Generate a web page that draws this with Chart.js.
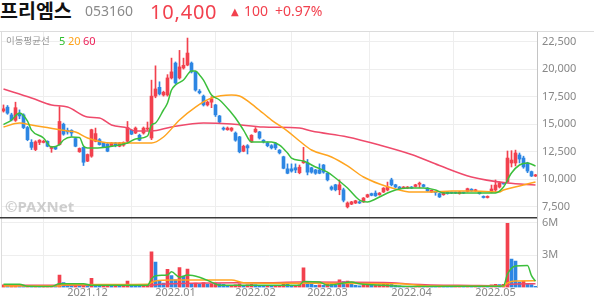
<!DOCTYPE html>
<html lang="ko">
<head>
<meta charset="utf-8">
<title>프리엠스 053160</title>
<script src="https://cdn.jsdelivr.net/npm/chart.js@4.4.1/dist/chart.umd.min.js"></script>
<style>
  html, body { margin: 0; padding: 0; background: #fff; }
  body { position: relative; width: 594px; height: 304px; overflow: hidden; font-family: 'Noto Sans', 'Noto Sans CJK KR', sans-serif; }
  .txt { position: absolute; white-space: nowrap; line-height: 1; }
  .pane { position: absolute; left: 0; width: 594px; }
  #pricePane { top: 31px; height: 186px; }
  #volPane { top: 217px; height: 87px; }
  .red { color: #f2414e; }
</style>
</head>
<body>
<div class="pane" id="pricePane"><canvas id="priceChart"></canvas></div>
<div class="pane" id="volPane"><canvas id="volChart"></canvas></div>

<!-- header -->
<div class="txt" style="left:0;top:0;font-family:'Noto Sans CJK KR';font-weight:700;font-size:19.5px;color:#111">프리엠스</div>
<div class="txt" style="left:85px;top:4px;font-size:14px;color:#8a8a8a">053160</div>
<div class="txt red" style="left:150px;top:2px;font-size:20px;letter-spacing:0.8px">10,400</div>
<div class="txt red" style="left:231px;top:7px;font-family:'DejaVu Sans';font-size:10px">▲</div>
<div class="txt red" style="left:244px;top:4px;font-size:14px">100</div>
<div class="txt red" style="left:275px;top:4px;font-size:14px">+0.97%</div>

<!-- moving average legend -->
<div class="txt" style="left:6px;top:36px;font-family:'Noto Sans CJK KR';font-size:9.5px;color:#999">이동평균선</div>
<div class="txt" style="left:59px;top:35px;font-size:11px;color:#2fbf2f">5</div>
<div class="txt" style="left:68px;top:35px;font-size:11px;color:#ffa31a">20</div>
<div class="txt" style="left:83px;top:35px;font-size:11px;color:#ec1f57">60</div>

<!-- watermark -->
<div class="txt" style="left:5px;top:199px;font-size:15px;font-weight:700;color:rgba(160,160,160,0.5)">©PAXNet</div>

<script>
// ---- ticks / categories ----
const monthIdx = [21, 43, 63, 81, 102, 123];
const monthLabels = ['2021.12', '2022.01', '2022.02', '2022.03', '2022.04', '2022.05'];
const priceTicks = [7500, 10000, 12500, 15000, 17500, 20000, 22500];
const volTicks = [3, 6];

// ---- daily candles (one value per trading day) ----
const openP = [
  16200,16550,15850,15350,15950,15850,14700,13350,12700,13350,
  13350,13450,12800,12950,13150,15000,14450,14450,13700,12500,
  12900,11650,12100,13450,13600,13300,13200,13050,13300,13000,
  13100,13450,14450,14200,14000,14200,14550,13750,17550,18350,
  17650,17650,19200,20550,19200,20100,20370,20550,19750,18000,
  17550,16750,17000,16750,15750,14650,14500,14450,14200,13850,
  12550,13050,13400,14300,14300,13550,13300,13050,13250,12650,
  12050,10950,10950,11050,10600,11500,11500,11050,10850,10850,
  11300,10550,9300,9500,9050,9050,7500,7750,7850,7950,
  7950,8400,8700,8750,8600,8850,9030,9950,9500,9300,
  9200,9200,9300,9350,9550,9500,9200,8850,8850,8700,
  8600,8850,8800,8800,8700,8800,8900,9100,8950,8850,
  8450,8350,8850,9030,9300,9670,9760,11480,11480,12210,
  11930,11480,10700,10300
];
const highP = [
  16750,16700,16000,17000,16300,15950,14800,13600,13500,13600,
  13550,13500,13000,13000,16600,15100,14650,14500,13750,12850,
  12950,12300,14550,14650,13700,13350,13250,13350,13350,13350,
  13400,15250,14500,14750,14100,14750,15200,19000,20300,18850,
  18000,19500,21000,20650,21700,21000,22820,20650,19800,18150,
  17650,17100,17500,16800,15800,14750,14750,14700,14300,13900,
  13100,13150,14050,14700,14350,13600,13400,13150,13350,12700,
  12100,11400,11400,11400,11300,12900,11800,11100,10900,11400,
  11350,10600,9400,9550,9950,9200,7950,8000,8100,8000,
  8350,8650,8750,8950,8800,9250,9750,10100,9550,9350,
  9350,9350,9350,9550,9750,9550,9250,9050,8900,8750,
  8850,8900,8850,8850,8900,8850,9200,9150,9100,8900,
  8500,8500,9480,9940,9760,9700,12570,12600,12650,12390,
  12100,11550,10750,10450
];
const lowP = [
  16100,15900,15300,15250,15500,14600,13500,12700,12600,13150,
  13300,12950,12450,12700,13100,14000,14100,13900,12950,12450,
  11250,11600,12000,13400,13100,12900,12500,13000,12950,12950,
  13000,13400,14050,14150,13500,14100,14450,13600,17400,17650,
  17550,17550,19100,18650,19100,20000,20300,19650,18000,17750,
  16650,16650,16500,15700,15100,14450,14450,14350,13450,12400,
  12500,12300,13350,14250,13650,13300,12950,12750,12700,12300,
  10950,10500,10650,10600,10500,11450,10400,10550,10450,10500,
  10550,9850,9000,8950,8600,7950,7400,7700,7800,7800,
  7900,8350,8500,8450,8550,8800,8950,9400,9250,9100,
  9150,9150,9150,9300,9250,9300,8900,8800,8550,8350,
  8550,8650,8700,8700,8650,8700,8850,8900,8900,8650,
  8300,8300,8780,8850,9210,9550,9700,11120,11210,11480,
  11000,10600,10250,10250
];
const closeP = [
  16400,16000,15400,16500,15750,14700,13600,12900,13400,13550,
  13450,13000,12950,12750,15250,14100,14300,14200,13000,12800,
  11550,12250,14500,14150,13150,12950,12550,13300,13050,13300,
  13350,14700,14100,14650,13550,14650,14650,17550,18200,17750,
  17900,19200,19750,18750,20200,20350,21460,19750,18100,17850,
  16750,17000,17300,15850,15200,14550,14650,14650,13550,12500,
  13000,12850,14000,14550,13750,13400,13050,12850,12850,12400,
  11000,10550,10750,10850,11100,11650,10650,10650,10550,10550,
  10650,9950,9100,9050,9500,8100,7850,7950,8050,7850,
  8300,8600,8550,8500,8750,9200,9300,9500,9300,9150,
  9300,9300,9200,9500,9650,9350,8950,9000,8800,8400,
  8800,8700,8750,8750,8850,8750,9150,8950,9050,8700,
  8350,8450,9120,9480,9670,9580,11930,11750,12390,11840,
  11120,10750,10300,10400
];
// volume, millions of shares
const volumeM = [
  0.25,0.15,0.15,0.3,0.2,0.15,0.2,0.15,0.2,0.1,
  0.1,0.1,0.12,0.1,1.15,0.45,0.3,0.2,0.2,0.15,
  0.2,0.15,0.85,0.3,0.15,0.15,0.15,0.1,0.12,0.1,
  0.15,0.6,0.2,0.15,0.12,0.15,0.2,3.3,2.35,0.6,
  0.4,1.68,1.1,0.7,1.85,1.05,1.7,0.35,0.4,0.3,
  0.45,0.3,0.35,0.4,0.35,0.3,0.2,0.2,0.25,0.35,
  0.2,0.25,0.3,0.25,0.2,0.15,0.15,0.12,0.15,0.15,
  0.35,0.3,0.15,0.2,0.25,1.83,0.5,0.3,0.2,0.25,
  0.2,0.35,0.3,0.2,0.7,0.55,0.6,0.3,0.2,0.15,
  0.2,0.25,0.2,0.2,0.25,0.3,0.45,0.35,0.2,0.15,
  0.1,0.12,0.08,0.12,0.15,0.1,0.12,0.1,0.08,0.1,
  0.08,0.06,0.05,0.05,0.06,0.05,0.08,0.06,0.07,0.06,
  0.08,0.06,0.25,0.3,0.28,0.3,5.95,2.64,2.45,0.5,
  0.6,0.35,0.28,0.12
];

// ---- moving average lines, read as [day index, value] ----
const ma5 = [[0,14960],[2,15380],[4,16020],[6,15290],[7,14470],[10,13750],[12,12930],[14,13150],[15,13570],
  [17,13840],[19,13800],[20,13020],[21,12840],[23,12840],[26,12930],[29,13110],[31,13290],[33,13660],[36,13930],
  [37,14930],[38,15110],[40,16290],[41,16920],[42,18100],[43,18560],[45,19010],[47,19830],[48,19830],[49,19470],
  [50,19010],[52,17650],[54,17200],[57,16020],[58,15560],[60,14470],[62,13380],[65,13380],[67,13380],[69,13110],
  [71,12390],[72,11930],[75,11660],[78,11120],[81,10660],[83,10120],[86,9210],[89,8120],[91,7940],[93,8210],
  [96,8760],[98,9030],[101,9210],[105,9210],[108,9030],[110,8760],[117,8760],[123,8760],[125,9300],[127,10570],
  [129,11300],[131,11480],[133,11210]];
const ma20 = [[0,14750],[4,15110],[7,14930],[10,14750],[16,14380],[18,14290],[21,13750],[27,13290],[31,13290],
  [37,13290],[40,13840],[44,15380],[48,16560],[52,17380],[57,17650],[59,17560],[63,16560],[67,15380],[71,14380],
  [74,13480],[77,12660],[82,12020],[86,11210],[90,10210],[94,9570],[98,9120],[102,8850],[107,8850],[112,8940],
  [117,8940],[124,8850],[125,9030],[129,9390],[133,9760]];
const ma60 = [[0,18190],[7,17380],[12,16740],[16,16560],[21,15650],[24,15560],[27,14930],[31,14650],[33,14380],
  [37,14380],[42,14750],[50,15110],[57,15020],[65,14750],[74,14650],[77,14380],[86,13840],[94,13110],[102,12250],
  [109,11250],[117,10210],[126,9660],[133,9480]];
const vma5 = [[0,0.3],[4,0.3],[6,0.12],[12,0.1],[14,0.35],[20,0.35],[22,0.2],[36,0.2],[37,0.8],[38,1.1],[41,1.15],
  [42,1.45],[44,0.95],[46,1.15],[49,0.95],[52,0.5],[54,0.2],[74,0.22],[75,0.55],[79,0.5],[81,0.2],[84,0.35],
  [87,0.5],[89,0.35],[95,0.2],[102,0.1],[124,0.12],[125,0.15],[126,1.25],[128,2.0],[131,2.05],[132,1.1],[133,0.6]];
const vma20 = [[0,0.15],[14,0.15],[15,0.25],[36,0.3],[37,0.45],[38,0.6],[42,0.7],[57,0.7],[60,0.45],[74,0.4],
  [99,0.35],[106,0.15],[125,0.12],[126,0.42],[128,0.6],[133,0.62]];
const vma60 = [[0,0.2],[37,0.22],[39,0.3],[66,0.45],[74,0.5],[97,0.45],[102,0.3],[118,0.18],[125,0.15],
  [126,0.28],[133,0.35]];

// ---- styles ----
const RED = '#f2414e', BLUE = '#2d86e3';
const C5 = '#3cbf3c', C20 = '#ffa41f', C60 = '#ef4a6b';
const GRID = '#eeeeee', AXIS = '#c4c4c4', LABEL = '#888';
const X_MIN = -0.375, X_MAX = 133.375;

Chart.defaults.font.family = "'Noto Sans', 'Noto Sans CJK KR', sans-serif";

const pts = arr => arr.map(([x, y]) => ({ x, y }));
const candleColors = closeP.map((c, i) => c >= openP[i] ? RED : BLUE);
const volColors = volumeM.map((v, i) => (i === 0 || v >= volumeM[i - 1]) ? RED : BLUE);

const maLine = (label, data, color) => ({
  type: 'line', label, data: pts(data), borderColor: color, borderWidth: 1.5,
  pointRadius: 0, cubicInterpolationMode: 'monotone', order: 0
});

const fitY = s => { s.width = 57; s.paddingTop = 0; s.paddingBottom = 0; };
const monthTicks = s => { s.ticks = monthIdx.map(v => ({ value: v })); };

// pane frame: light border on the left/top, dark separator above the volume pane
const frame = {
  id: 'frame',
  afterDraw(chart, args, opts) {
    const { ctx, chartArea: a } = chart;
    ctx.save();
    ctx.strokeStyle = '#dcdcdc';
    ctx.lineWidth = 1;
    ctx.beginPath();
    ctx.moveTo(1.5, 0); ctx.lineTo(1.5, a.bottom);
    if (opts.top) { ctx.moveTo(0, 0.5); ctx.lineTo(chart.width, 0.5); }
    ctx.stroke();
    if (opts.sep) {
      ctx.strokeStyle = '#3a3a3a';
      ctx.lineWidth = 1.5;
      ctx.beginPath(); ctx.moveTo(0, 0.75); ctx.lineTo(a.right, 0.75); ctx.stroke();
    }
    ctx.restore();
  }
};

new Chart(document.getElementById('priceChart'), {
  type: 'bar',
  data: {
    datasets: [
      maLine('MA5', ma5, C5),
      maLine('MA20', ma20, C20),
      maLine('MA60', ma60, C60),
      {
        label: 'wick', data: closeP.map((c, i) => ({ x: i, y: [lowP[i], highP[i]] })),
        backgroundColor: candleColors, barThickness: 1, grouped: false, order: 2
      },
      {
        label: 'body', data: closeP.map((c, i) => ({ x: i, y: [openP[i], c] })),
        backgroundColor: candleColors, barThickness: 3, minBarLength: 1, grouped: false, order: 1
      }
    ]
  },
  options: {
    responsive: true, maintainAspectRatio: false, animation: false, devicePixelRatio: 1,
    layout: { padding: { left: 2, right: 0, top: 0, bottom: 0 } },
    plugins: { legend: { display: false }, tooltip: { enabled: false }, frame: { top: true } },
    scales: {
      x: {
        type: 'linear', min: X_MIN, max: X_MAX, offset: false,
        afterBuildTicks: monthTicks,
        ticks: { display: false },
        grid: { color: GRID, drawTicks: false },
        border: { display: false }
      },
      y: {
        position: 'right', min: 6580, max: 23460,
        afterBuildTicks: s => { s.ticks = priceTicks.map(v => ({ value: v })); },
        afterFit: fitY,
        ticks: { color: LABEL, font: { size: 11 }, padding: 5, callback: v => v.toLocaleString('en-US') },
        grid: { color: GRID, drawTicks: false },
        border: { color: AXIS }
      }
    }
  },
  plugins: [frame]
});

new Chart(document.getElementById('volChart'), {
  type: 'bar',
  data: {
    datasets: [
      maLine('VMA5', vma5, C5),
      maLine('VMA20', vma20, C20),
      maLine('VMA60', vma60, C60),
      {
        label: 'volume', data: volumeM.map((v, i) => ({ x: i, y: v })),
        backgroundColor: volColors, barThickness: 3, grouped: false, order: 1
      }
    ]
  },
  options: {
    responsive: true, maintainAspectRatio: false, animation: false, devicePixelRatio: 1,
    layout: { padding: { left: 2, right: 0, top: 0, bottom: 0 } },
    plugins: { legend: { display: false }, tooltip: { enabled: false }, frame: { sep: true } },
    scales: {
      x: {
        type: 'linear', min: X_MIN, max: X_MAX, offset: false,
        afterBuildTicks: monthTicks,
        afterFit: s => { s.height = 16.5; s.paddingLeft = 0; s.paddingRight = 0; },
        ticks: { color: LABEL, font: { size: 11 }, padding: -1, maxRotation: 0, autoSkip: false,
                 callback: (v, i) => monthLabels[i] },
        grid: { color: GRID, drawTicks: false },
        border: { display: false }
      },
      y: {
        position: 'right', min: 0, max: 6.54,
        afterBuildTicks: s => { s.ticks = volTicks.map(v => ({ value: v })); },
        afterFit: fitY,
        ticks: { color: LABEL, font: { size: 11 }, padding: 5, callback: v => v + 'M' },
        grid: { color: GRID, drawTicks: false },
        border: { color: AXIS }
      }
    }
  },
  plugins: [frame]
});
</script>
</body>
</html>
